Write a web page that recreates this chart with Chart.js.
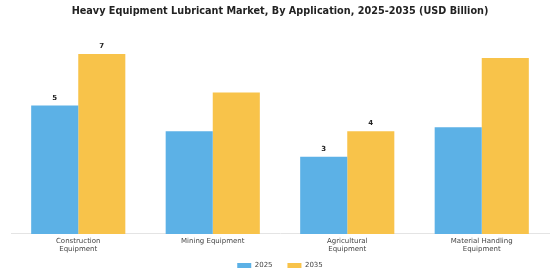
<!DOCTYPE html>
<html lang="en">
<head>
  <meta charset="UTF-8" />
  <title>Heavy Equipment Lubricant Market</title>
  <style>
    html, body { margin: 0; padding: 0; background: #fff; }
    #wrap { width: 560px; height: 280px; }
  </style>
</head>
<body>
  <div id="wrap"><canvas id="graficoBarras"></canvas></div>

<script src="https://cdn.jsdelivr.net/npm/chart.js@4.4.0/dist/chart.umd.min.js"></script>
<script>
  // data
  const categorias = [
    ['Construction', 'Equipment'],
    'Mining Equipment',
    ['Agricultural', 'Equipment'],
    ['Material Handling', 'Equipment']
  ];
  const valores2025 = [5.0, 4.0, 3.0, 4.15];
  const valores2035 = [7.0, 5.5, 4.0, 6.85];
  const etiquetas2025 = ['5', null, '3', null];
  const etiquetas2035 = ['7', null, '4', null];

  // draws the small bold numbers above some bars
  const etiquetasPlugin = {
    id: 'etiquetas',
    afterDatasetsDraw(chart) {
      const ctx = chart.ctx;
      const listas = [etiquetas2025, etiquetas2035];
      ctx.save();
      ctx.font = 'bold 7px "DejaVu Sans"';
      ctx.fillStyle = '#222';
      ctx.textAlign = 'center';
      ctx.textBaseline = 'bottom';
      chart.data.datasets.forEach((ds, i) => {
        chart.getDatasetMeta(i).data.forEach((bar, j) => {
          const txt = listas[i][j];
          if (txt) ctx.fillText(txt, bar.x, bar.y - 4);
        });
      });
      ctx.restore();
    }
  };

  new Chart(document.getElementById('graficoBarras'), {
    type: 'bar',
    data: {
      labels: categorias,
      datasets: [
        { label: '2025', data: valores2025, backgroundColor: '#5cb1e6' },
        { label: '2035', data: valores2035, backgroundColor: '#f8c34a' }
      ]
    },
    options: {
      responsive: true,
      maintainAspectRatio: false,
      animation: false,
      layout: { padding: { left: 11, right: 11, bottom: 1 } },
      datasets: { bar: { categoryPercentage: 0.7, barPercentage: 1.0 } },
      plugins: {
        title: {
          display: true,
          text: 'Heavy Equipment Lubricant Market, By Application, 2025-2035 (USD Billion)',
          color: '#222',
          font: { family: 'DejaVu Sans', size: 9.7, weight: 'bold' },
          padding: { top: 6, bottom: 21 }
        },
        legend: {
          position: 'bottom',
          labels: {
            boxWidth: 14,
            boxHeight: 5,
            padding: 6,
            color: '#444',
            font: { family: 'DejaVu Sans', size: 7 },
            // a bit more room between the two items, like the original
            generateLabels(chart) {
              const items = Chart.defaults.plugins.legend.labels.generateLabels(chart);
              items[0].text += '    ';
              return items;
            }
          }
        },
        tooltip: { enabled: false }
      },
      scales: {
        x: {
          grid: { display: false, drawTicks: false },
          border: { color: '#e4e4e4' },
          ticks: {
            color: '#444',
            padding: 3,
            maxRotation: 0,
            font: { family: 'DejaVu Sans', size: 7, lineHeight: 1.15 }
          }
        },
        y: {
          display: false,
          min: 0,
          max: 7.6
        }
      }
    },
    plugins: [etiquetasPlugin]
  });
</script>
</body>
</html>
